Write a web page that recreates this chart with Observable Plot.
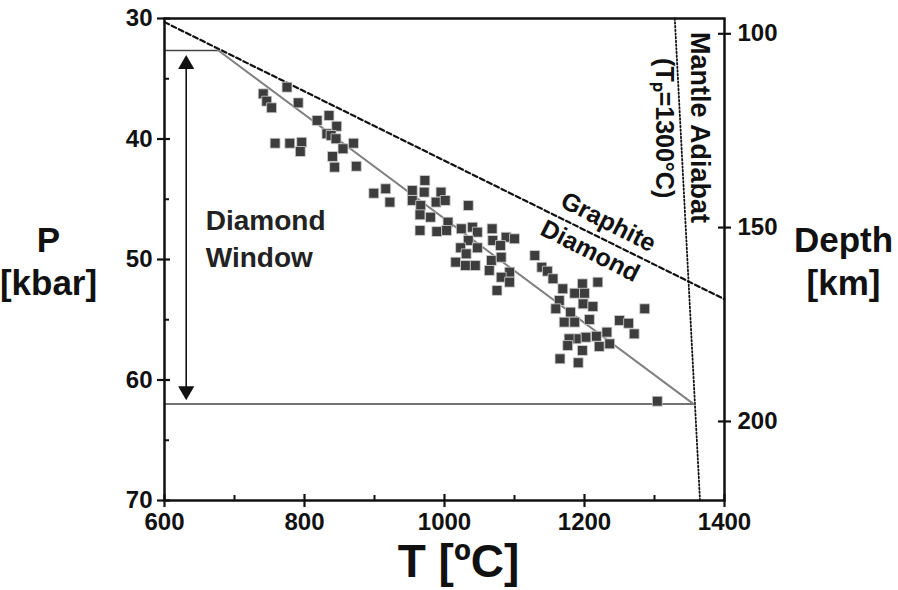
<!DOCTYPE html>
<html><head><meta charset="utf-8">
<script src="https://cdn.jsdelivr.net/npm/d3@7"></script>
<script src="https://cdn.jsdelivr.net/npm/@observablehq/plot@0.6"></script>
<style>body{margin:0;background:#fff} svg{display:block}</style>
</head><body><div id="chart"></div>
<script>
// Axis domains and ticks
const tDomain = [600, 1400];
const pDomain = [30, 70];
const tTicks = [600, 800, 1000, 1200, 1400];
const tMinor = [700, 900, 1100, 1300];
const pTicks = [30, 40, 50, 60, 70];
const pMinor = [35, 45, 55, 65];
const depthTicks = [100, 150, 200];
const depthTickP = [31.27, 47.35, 63.44];

// Sample P-T estimates (xenolith data)
const temperature = [775,741,746,753,791,818,835,846,832,838,845,855,870,758,779,796,794,840,843,874,899,
  916,922,972,954,971,954,995,988,1001,966,965,980,965,989,1005,1003,1034,1024,1040,1047,1034,1023,1047,1031,1016,1030,1044,
  1068,1069,1088,1100,1080,1067,1081,1064,1093,1081,1093,1075,
  1129,1139,1147,1155,1169,1197,1219,1186,1200,1164,1159,1180,1198,1212,1286,1171,1186,1207,1250,1263,1271,1232,1217,1202,1188,1178,1176,1221,1236,1197,1165,1191,1304];
const pressure = [35.7,36.25,36.86,37.41,37.0,38.46,38.05,38.94,39.57,39.71,39.98,40.81,40.35,40.35,40.35,40.27,41.04,41.45,42.34,42.26,44.5,
  44.13,45.24,43.44,44.27,44.41,45.10,44.41,45.24,45.10,45.52,46.29,46.49,47.59,47.68,46.90,47.59,45.52,47.45,47.32,47.73,48.42,49.03,49.03,49.53,50.22,50.50,50.50,
  47.45,48.42,48.15,48.28,48.84,50.08,49.81,50.91,51.05,51.47,51.88,52.57,
  49.67,50.64,50.97,51.60,52.43,52.02,51.88,52.80,52.80,53.40,54.09,54.37,53.68,53.90,54.09,55.20,55.20,54.98,55.06,55.29,56.17,56.03,56.37,56.45,56.58,56.58,57.14,57.22,57.0,57.55,58.24,58.57,61.76];

// Boundary lines
const graphiteT = [600, 1400];
const graphiteP = [30.3, 53.3];
const geothermT = [677, 1356];
const geothermP = [32.66, 62.0];
const adiabatT = [1329, 1365];
const adiabatP = [30, 70];
const windowP = [32.66, 62.0];
const windowEndT = [677, 1356];
const arrowT = 631;
const arrowP = [33.0, 61.7];

const points = temperature.map((t, i) => ({T: t, P: pressure[i]}));
const lineOf = (ts, ps) => ts.map((t, i) => ({T: t, P: ps[i]}));
const depthOf = p => {
  const i = depthTickP.indexOf(p);
  return i >= 0 ? String(depthTicks[i]) : "";
};

const font = "'Liberation Sans', Arial, sans-serif";
const black = "#111";

const chart = Plot.plot({
  width: 898,
  height: 590,
  marginLeft: 164,
  marginRight: 174,
  marginTop: 18,
  marginBottom: 90,
  style: {fontFamily: font, background: "white", color: black},
  x: {domain: tDomain, axis: null},
  y: {domain: pDomain, reverse: true, axis: null},
  marks: [
    // graphite-diamond boundary
    Plot.line(lineOf(graphiteT, graphiteP), {x: "T", y: "P", stroke: black, strokeWidth: 2.2, strokeDasharray: "5,3"}),
    // mantle adiabat
    Plot.line(lineOf(adiabatT, adiabatP), {x: "T", y: "P", stroke: black, strokeWidth: 1.8, strokeDasharray: "1.5,2.2"}),
    // window horizontal lines
    Plot.ruleY(windowP.map((p, i) => ({P: p, T2: windowEndT[i]})), {y: "P", x1: tDomain[0], x2: "T2", stroke: "#444", strokeWidth: 1.5}),
    // geotherm
    Plot.line(lineOf(geothermT, geothermP), {x: "T", y: "P", stroke: "#808080", strokeWidth: 2}),
    // double arrow
    Plot.ruleX([arrowT], {x: d => d, y1: arrowP[0] + 0.5, y2: arrowP[1] - 0.5, stroke: black, strokeWidth: 1.6}),
    Plot.dot([{P: arrowP[0] + 0.8, rot: 0}, {P: arrowP[1] - 0.8, rot: 180}], {x: () => arrowT, y: "P", symbol: "triangle", r: 6, fill: black, stroke: "none", rotate: "rot"}),
    // data points
    Plot.dot(points, {x: "T", y: "P", symbol: "square", r: 5.6, fill: "#3d3d3d", stroke: "#d0d0d0", strokeWidth: 0.8}),
    // frame
    Plot.frame({stroke: black, strokeWidth: 2.5}),
    // tick labels
    Plot.axisY({ticks: pTicks, tickSize: 0, tickPadding: 12, fontSize: 24, fontWeight: "bold", tickFormat: d => String(d), label: null}),
    Plot.axisX({ticks: tTicks, tickSize: 0, tickPadding: 12, fontSize: 24, fontWeight: "bold", tickFormat: d => String(d), label: null}),
    Plot.axisY({anchor: "right", ticks: depthTickP, tickFormat: depthOf, tickSize: 0, tickPadding: 13, fontSize: 24, fontWeight: "bold", label: null}),
    // axis titles
    Plot.text(["P\n[kbar]"], {frameAnchor: "left", dx: -116, text: d => d, fontSize: 35, fontWeight: "bold", lineHeight: 1.25, textAnchor: "middle", fill: black}),
    Plot.text(["Depth\n[km]"], {frameAnchor: "right", dx: 119, text: d => d, fontSize: 35, fontWeight: "bold", lineHeight: 1.25, textAnchor: "middle", fill: black}),
    Plot.text(["T [ºC]"], {frameAnchor: "bottom", dx: 14, dy: 76, text: d => d, fontSize: 46, fontWeight: "bold", textAnchor: "middle", fill: black}),
    // annotations
    Plot.text(["Diamond\nWindow"], {x: () => 659, y: () => 48.1, text: d => d, fontSize: 28, fontWeight: "bold", lineHeight: 1.32, textAnchor: "start", fill: "#222"}),
    Plot.text(["Graphite"], {x: () => 1234, y: () => 46.9, text: d => d, fontSize: 25, fontWeight: "bold", rotate: 27, fill: black}),
    Plot.text(["Diamond"], {x: () => 1208, y: () => 49.3, text: d => d, fontSize: 25, fontWeight: "bold", rotate: 27, fill: black}),
    Plot.text(["Mantle Adiabat"], {x: () => 1364, y: () => 39.05, text: d => d, fontSize: 27, fontWeight: "bold", rotate: 90, fill: black}),
    Plot.text(["(Tₚ=1300°C)"], {x: () => 1314, y: () => 39.1, text: d => d, fontSize: 25, fontWeight: "bold", rotate: 90, fill: black}),
    // ticks crossing the axis lines (drawn last)
    Plot.ruleY(pTicks, {y: d => d, x1: tDomain[0], x2: tDomain[0], insetLeft: -7, insetRight: -6, stroke: black, strokeWidth: 2.2}),
    Plot.ruleY(pMinor, {y: d => d, x1: tDomain[0], x2: tDomain[0], insetLeft: 0, insetRight: -5, stroke: black, strokeWidth: 2}),
    Plot.ruleX(tTicks, {x: d => d, y1: pDomain[1], y2: pDomain[1], insetTop: -6, insetBottom: -7, stroke: black, strokeWidth: 2.2}),
    Plot.ruleX(tMinor, {x: d => d, y1: pDomain[1], y2: pDomain[1], insetTop: -5, insetBottom: 0, stroke: black, strokeWidth: 2}),
    Plot.ruleY(depthTickP, {y: d => d, x1: tDomain[1], x2: tDomain[1], insetLeft: -6, insetRight: -7, stroke: black, strokeWidth: 2.2})
  ]
});
document.getElementById("chart").append(chart);
</script>
</body></html>
